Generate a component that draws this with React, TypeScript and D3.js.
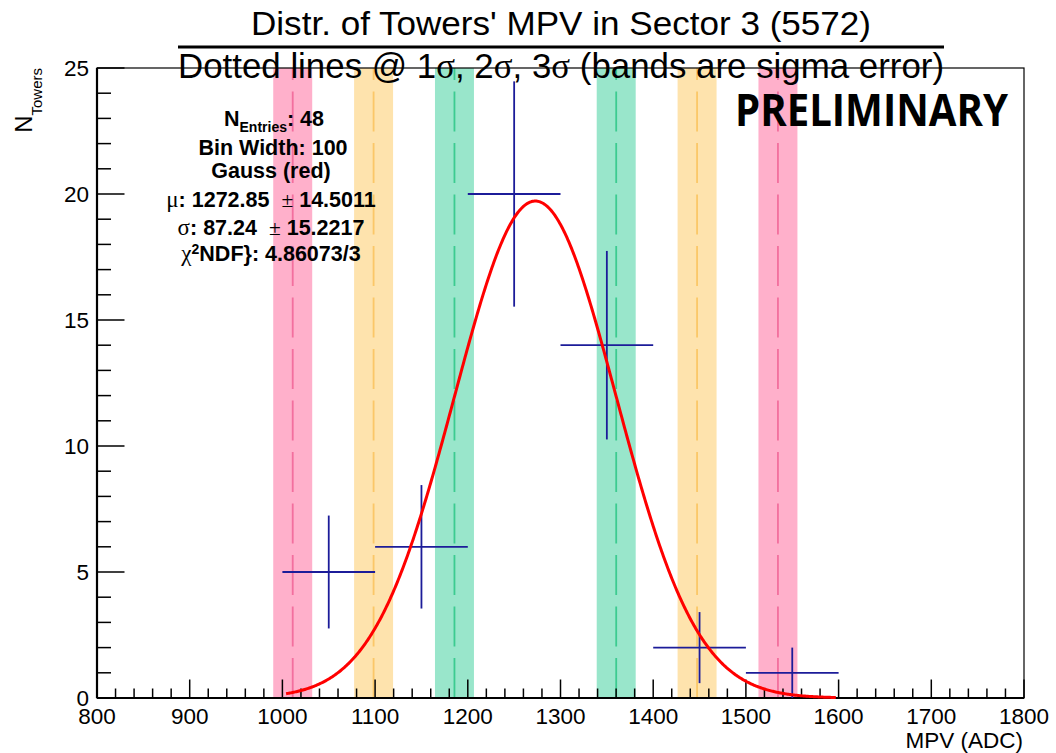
import React from "react";
import * as d3 from "d3";

// ---- data ----
const binCenters = [1050, 1150, 1250, 1350, 1450, 1550];
const binCounts = [5, 6, 20, 14, 2, 1];
const binErrors = [2.24, 2.45, 4.47, 3.74, 1.41, 1.0];
const binWidth = 100;

const fitMean = 1272.85;
const fitMeanErr = 14.5011;
const fitSigma = 87.24;
const fitSigmaErr = 15.2217;
const fitAmp = 19.72;
const fitRange = [1004, 1597];

const sigmaMultiples = [1, 2, 3];
const bandFill = ["#99e6cb", "#fee3ad", "#ffb0cb"];
const bandLine = ["#3ccb90", "#fbc768", "#f36f9e"];

const xTicksMajor = [800, 900, 1000, 1100, 1200, 1300, 1400, 1500, 1600, 1700, 1800];
const yTicksMajor = [0, 5, 10, 15, 20, 25];

const W = 1056;
const H = 753;
const L = 97, R = 1024, T = 68, B = 698;

const SANS = "'Liberation Sans', Arial, Helvetica, sans-serif";
const SERIF = "'Liberation Serif', 'Times New Roman', serif";

export default function App() {
  const x = d3.scaleLinear().domain([800, 1800]).range([L, R]);
  const y = d3.scaleLinear().domain([0, 25]).range([B, T]);

  const bandHalf = Math.sqrt(fitMeanErr * fitMeanErr + fitSigmaErr * fitSigmaErr);

  const bands: { c: number; i: number }[] = [];
  sigmaMultiples.forEach((k, i) => {
    bands.push({ c: fitMean - k * fitSigma, i });
    bands.push({ c: fitMean + k * fitSigma, i });
  });

  const xsMinor = d3.range(800, 1801, 20).filter((v) => v % 100 !== 0);
  const ysMinor = d3.range(0, 26, 1).filter((v) => v % 5 !== 0);

  const gaussPts: [number, number][] = d3
    .range(fitRange[0], fitRange[1] + 0.1, 1)
    .map((v) => [v, fitAmp * Math.exp(-0.5 * ((v - fitMean) / fitSigma) ** 2)]);
  const line = d3
    .line<[number, number]>()
    .x((d) => x(d[0]))
    .y((d) => y(d[1]))
    .curve(d3.curveLinear);

  const statsX = 271;
  const statsFS = 21.5;

  return (
    <svg
      width={W}
      height={H}
      viewBox={`0 0 ${W} ${H}`}
      style={{ position: "absolute", left: 0, top: 0, background: "#fff" }}
    >
      <rect x={0} y={0} width={W} height={H} fill="#fff" />

      {/* bands */}
      {bands.map((b, k) => (
        <rect
          key={"band" + k}
          x={x(b.c - bandHalf)}
          y={T}
          width={x(b.c + bandHalf) - x(b.c - bandHalf)}
          height={B - T}
          fill={bandFill[b.i]}
        />
      ))}
      {/* dashed lines drawn bottom to top */}
      {bands.map((b, k) => (
        <line
          key={"dl" + k}
          x1={x(b.c)}
          x2={x(b.c)}
          y1={B}
          y2={T}
          stroke={bandLine[b.i]}
          strokeWidth={1.8}
          strokeDasharray="40 11.5"
        />
      ))}

      {/* frame */}
      <rect x={L} y={T} width={R - L} height={B - T} fill="none" stroke="#000" strokeWidth={1.2} />
      <line x1={L} x2={R} y1={B} y2={B} stroke="#000" strokeWidth={2.2} />
      <line x1={L} x2={L} y1={T} y2={B} stroke="#000" strokeWidth={2.2} />

      {/* x ticks */}
      {xTicksMajor.map((v) => (
        <line key={"xM" + v} x1={x(v)} x2={x(v)} y1={B} y2={B - 18.5} stroke="#000" strokeWidth={1.5} />
      ))}
      {xsMinor.map((v) => (
        <line key={"xm" + v} x1={x(v)} x2={x(v)} y1={B} y2={B - 9.5} stroke="#000" strokeWidth={1.5} />
      ))}
      {xTicksMajor.map((v) => (
        <text
          key={"xl" + v}
          x={x(v)}
          y={724}
          textAnchor="middle"
          fontFamily={SANS}
          fontSize={22.5}
          fill="#000"
        >
          {v}
        </text>
      ))}

      {/* y ticks */}
      {yTicksMajor.map((v) => (
        <line key={"yM" + v} x1={L} x2={L + 27.5} y1={y(v)} y2={y(v)} stroke="#000" strokeWidth={1.5} />
      ))}
      {ysMinor.map((v) => (
        <line key={"ym" + v} x1={L} x2={L + 14} y1={y(v)} y2={y(v)} stroke="#000" strokeWidth={1.5} />
      ))}
      {yTicksMajor.map((v) => (
        <text
          key={"yl" + v}
          x={89}
          y={y(v) + 8}
          textAnchor="end"
          fontFamily={SANS}
          fontSize={22.5}
          fill="#000"
        >
          {v}
        </text>
      ))}

      {/* axis titles */}
      <text x={1023} y={748} textAnchor="end" fontFamily={SANS} fontSize={22.5} fill="#000">
        MPV (ADC)
      </text>
      <text
        transform="translate(32,68) rotate(-90)"
        textAnchor="end"
        fontFamily={SANS}
        fontSize={24}
        fill="#000"
      >
        N
        <tspan fontSize={15} dy={10}>
          Towers
        </tspan>
      </text>

      {/* data points with errors */}
      {binCenters.map((c, i) => (
        <g key={"pt" + i} stroke="#1c1c99" strokeWidth={1.8}>
          <line x1={x(c - binWidth / 2)} x2={x(c + binWidth / 2)} y1={y(binCounts[i])} y2={y(binCounts[i])} />
          <line x1={x(c)} x2={x(c)} y1={y(binCounts[i] - binErrors[i])} y2={y(binCounts[i] + binErrors[i])} />
        </g>
      ))}

      {/* gaussian fit */}
      <path d={line(gaussPts) || ""} fill="none" stroke="#ff0000" strokeWidth={3} />

      {/* title */}
      <text
        x={561}
        y={34.5}
        textAnchor="middle"
        fontFamily={SANS}
        fontSize={34}
        textLength={620}
        lengthAdjust="spacingAndGlyphs"
        fill="#000"
      >
        Distr. of Towers' MPV in Sector 3 (5572)
      </text>
      <line x1={178} x2={944} y1={47} y2={47} stroke="#000" strokeWidth={2.8} />
      <text
        x={561}
        y={78}
        textAnchor="middle"
        fontFamily={SANS}
        fontSize={35}
        textLength={766}
        lengthAdjust="spacingAndGlyphs"
        fill="#000"
      >
        Dotted lines @ 1<tspan fontFamily={SERIF}>σ</tspan>, 2<tspan fontFamily={SERIF}>σ</tspan>, 3
        <tspan fontFamily={SERIF}>σ</tspan> (bands are sigma error)
      </text>

      {/* PRELIMINARY */}
      <text
        x={735}
        y={126}
        fontFamily="'Open Sans', sans-serif"
        fontWeight={700}
        fontSize={45}
        textLength={273}
        lengthAdjust="spacingAndGlyphs"
        fill="#000"
      >
        PRELIMINARY
      </text>

      {/* stats */}
      <g fontFamily={SANS} fontWeight={700} fontSize={statsFS} fill="#000" textAnchor="middle">
        <text x={statsX + 3} y={126}>
          N
          <tspan fontSize={14} dy={6}>
            Entries
          </tspan>
          <tspan dy={-6}>: 48</tspan>
        </text>
        <text x={statsX + 2} y={155}>
          Bin Width: 100
        </text>
        <text x={statsX} y={178}>
          Gauss (red)
        </text>
        <text x={statsX} y={207}>
          <tspan fontFamily={SERIF} fontWeight={400} fontSize={23}>
            μ
          </tspan>
          : 1272.85{"\u00a0\u00a0"}
          <tspan fontFamily={SERIF} fontWeight={400}>
            ±
          </tspan>
          {"\u00a0"}
          {fitMeanErr.toFixed(4)}
        </text>
        <text x={statsX} y={235}>
          <tspan fontFamily={SERIF} fontWeight={400} fontSize={23}>
            σ
          </tspan>
          : 87.24{"\u00a0\u00a0"}
          <tspan fontFamily={SERIF} fontWeight={400}>
            ±
          </tspan>
          {"\u00a0"}
          {fitSigmaErr.toFixed(4)}
        </text>
        <text x={statsX} y={261}>
          <tspan fontFamily={SERIF} fontWeight={400} fontSize={23}>
            χ
          </tspan>
          <tspan fontSize={14} dy={-7}>
            2
          </tspan>
          <tspan dy={7}>{"NDF}: 4.86073/3"}</tspan>
        </text>
      </g>
    </svg>
  );
}
